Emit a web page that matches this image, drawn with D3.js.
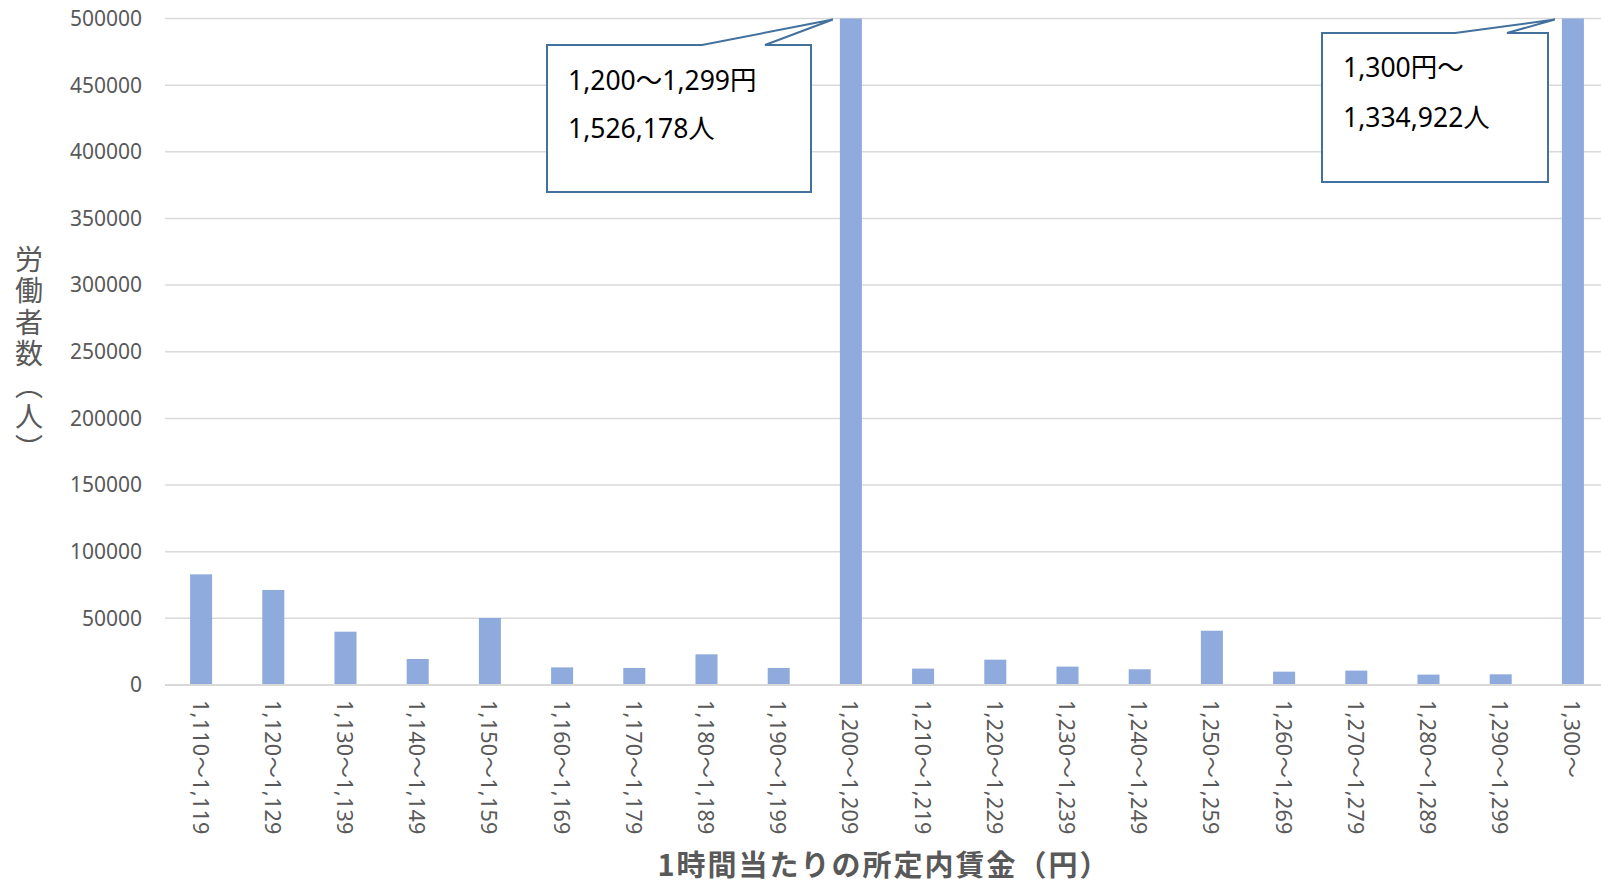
<!DOCTYPE html>
<html><head><meta charset="utf-8">
<script src="https://cdn.jsdelivr.net/npm/d3@7"></script>
<style>body{margin:0;background:#fff}</style>
</head><body>
<svg id="c" width="1601" height="887"></svg>
<script>
const categories = ["1,110～1,119","1,120～1,129","1,130～1,139","1,140～1,149","1,150～1,159","1,160～1,169","1,170～1,179","1,180～1,189","1,190～1,199","1,200～1,209","1,210～1,219","1,220～1,229","1,230～1,239","1,240～1,249","1,250～1,259","1,260～1,269","1,270～1,279","1,280～1,289","1,290～1,299","1,300～"];
const workers = [83000,71300,40000,19500,50300,13200,12800,23000,12800,1526178,12300,19000,13800,11800,40700,10000,10800,7800,8000,1334922];
const yTicks = [0,50000,100000,150000,200000,250000,300000,350000,400000,450000,500000];
const yTitle = "労働者数（人）";
const xTitle = "1時間当たりの所定内賃金（円）";
const calloutCats = ["1,200～1,209","1,300～"];
const calloutLines = [["1,200～1,299円","1,526,178人"],["1,300円～","1,334,922人"]];

const svg = d3.select("#c");
const pL = 165, pR = 1609, pT = 18.5, pB = 685;
const x = d3.scaleBand().domain(categories).range([pL, pR]).paddingInner(0.695).paddingOuter(0.3475);
const y = d3.scaleLinear().domain([0, 500000]).range([pB, pT]).clamp(true);

// gridlines
svg.append("g").selectAll("line").data(yTicks.filter(d => d > 0)).join("line")
  .attr("x1", pL).attr("x2", 1601).attr("y1", d => y(d)).attr("y2", d => y(d))
  .attr("stroke", "#d9d9d9").attr("stroke-width", 1.5);

// y tick labels
svg.append("g").selectAll("text").data(yTicks).join("text")
  .attr("x", 142).attr("y", d => y(d)).attr("dy", "0.35em")
  .attr("text-anchor", "end").attr("fill", "#595959")
  .style("font-family", "'Noto Sans', sans-serif").style("font-size", "21px")
  .text(d => d);

// bars
svg.append("g").selectAll("rect").data(categories).join("rect")
  .attr("x", d => x(d)).attr("width", x.bandwidth())
  .attr("y", (d, i) => y(workers[i])).attr("height", (d, i) => pB - y(workers[i]))
  .attr("fill", "#8faadc");

// baseline
svg.append("line").attr("x1", pL).attr("x2", 1601).attr("y1", pB).attr("y2", pB)
  .attr("stroke", "#d9d9d9").attr("stroke-width", 2);

// x tick labels
svg.append("g").selectAll("text").data(categories).join("text")
  .attr("transform", d => `translate(${x(d) + x.bandwidth()/2},700) rotate(90)`)
  .attr("dominant-baseline", "central")
  .attr("fill", "#595959")
  .style("font-family", "'Noto Sans', 'Noto Sans CJK JP', sans-serif").style("font-size", "21.5px")
  .style("letter-spacing", "0.3px")
  .text(d => d);

// axis titles
svg.append("text").attr("x", 29).attr("y", 245)
  .style("writing-mode", "vertical-rl")
  .attr("fill", "#595959")
  .style("font-family", "'Noto Sans CJK JP', sans-serif").style("font-size", "28px")
  .style("letter-spacing", "3.5px")
  .text(yTitle);

svg.append("text").attr("x", 884).attr("y", 866).attr("dy", "0.35em")
  .attr("text-anchor", "middle").attr("fill", "#595959")
  .style("font-family", "'Noto Sans CJK JP', sans-serif").style("font-size", "29px").style("font-weight", "bold")
  .style("letter-spacing", "2px")
  .text(xTitle);

// callouts
const boxes = [
  {l: 547, r: 811, t: 45, b: 192, p1: 702, p2: 765, tx: 568, ty: [90, 138]},
  {l: 1322, r: 1548, t: 33, b: 182, p1: 1455, p2: 1507, tx: 1343, ty: [77, 127]}
];
boxes.forEach((bx, k) => {
  const tipX = x(calloutCats[k]) - 7, tipY = y(500000) + 1;
  const p = `M${bx.l},${bx.t} L${bx.p1},${bx.t} L${tipX},${tipY} L${bx.p2},${bx.t} L${bx.r},${bx.t} L${bx.r},${bx.b} L${bx.l},${bx.b} Z`;
  svg.append("path").attr("d", p).attr("fill", "#fff").attr("stroke", "#41719c").attr("stroke-width", 2);
  calloutLines[k].forEach((ln, j) => {
    svg.append("text").attr("x", bx.tx).attr("y", bx.ty[j])
      .attr("fill", "#000")
      .style("font-family", "'Noto Sans', 'Noto Sans CJK JP', sans-serif").style("font-size", "26.5px")
      .text(ln);
  });
});
</script>
</body></html>
